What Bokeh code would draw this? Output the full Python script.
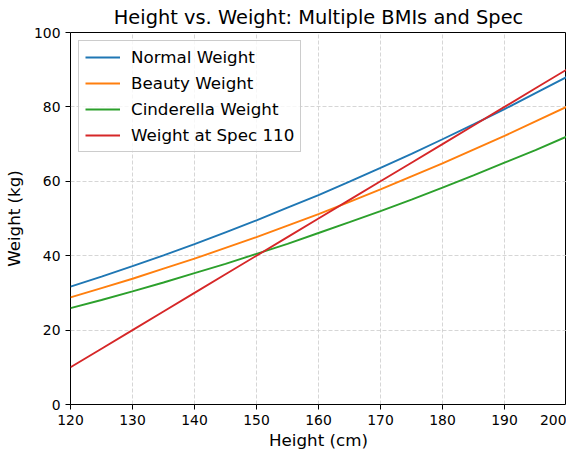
from bokeh.plotting import figure
from bokeh.models import Range1d, FixedTicker, Legend, LegendItem
from bokeh.embed import file_html
from bokeh.resources import INLINE

# height (cm) and weights (kg)
heights = [120, 125, 130, 135, 140, 145, 150, 155, 160, 165, 170, 175, 180, 185, 190, 195, 200]
normal_weight = [31.7, 34.4, 37.2, 40.1, 43.1, 46.3, 49.5, 52.9, 56.3, 59.9, 63.6, 67.4, 71.3, 75.3, 79.4, 83.7, 88.0]
beauty_weight = [28.8, 31.3, 33.8, 36.5, 39.2, 42.1, 45.0, 48.1, 51.2, 54.5, 57.8, 61.3, 64.8, 68.5, 72.2, 76.1, 80.0]
cinderella_weight = [25.9, 28.1, 30.4, 32.8, 35.3, 37.8, 40.5, 43.2, 46.1, 49.0, 52.0, 55.1, 58.3, 61.6, 65.0, 68.4, 72.0]
spec_weight = [10, 15, 20, 25, 30, 35, 40, 45, 50, 55, 60, 65, 70, 75, 80, 85, 90]

series = [
    ("Normal Weight", normal_weight, "#1f77b4"),
    ("Beauty Weight", beauty_weight, "#ff7f0e"),
    ("Cinderella Weight", cinderella_weight, "#2ca02c"),
    ("Weight at Spec 110", spec_weight, "#d62728"),
]

FONT = "DejaVu Sans"

p = figure(width=566, height=452, output_backend="svg", toolbar_location=None,
           title="Height vs. Weight: Multiple BMIs and Spec",
           x_range=Range1d(120, 200), y_range=Range1d(0, 100))
p.min_border_left = 0
p.min_border_right = 0
p.min_border_top = 0
p.min_border_bottom = 0

p.title.text_font = FONT
p.title.text_font_size = "19.4px"
p.title.text_font_style = "normal"
p.title.align = "center"
p.title.text_color = "black"
p.title.standoff = 7

p.xaxis.axis_label = "Height (cm)"
p.yaxis.axis_label = "Weight (kg)"
p.xaxis.ticker = FixedTicker(ticks=[120, 130, 140, 150, 160, 170, 180, 190, 200])
p.yaxis.ticker = FixedTicker(ticks=[0, 20, 40, 60, 80, 100])
for ax in (p.xaxis, p.yaxis):
    ax.axis_label_text_font = FONT
    ax.axis_label_text_font_size = "16.7px"
    ax.axis_label_text_font_style = "normal"
    ax.axis_label_text_color = "black"
    ax.major_label_text_font = FONT
    ax.major_label_text_font_size = "13.9px"
    ax.major_label_text_color = "black"
    ax.axis_line_color = None
    ax.major_tick_line_color = "black"
    ax.major_tick_in = 0
    ax.major_tick_out = 5
    ax.minor_tick_line_color = None
p.xaxis.axis_label_standoff = 2
p.yaxis.axis_label_standoff = 7

p.outline_line_color = "black"
p.outline_line_width = 1
p.outline_line_alpha = 1

p.grid.grid_line_color = "#cccccc"
p.grid.grid_line_dash = "4 2"
p.grid.grid_line_width = 0.8

items = []
for name, w, color in series:
    r = p.line(heights, w, line_color=color, line_width=1.9)
    items.append(LegendItem(label=name, renderers=[r]))

legend = Legend(items=items, location="top_left")
legend.label_text_font = FONT
legend.label_text_font_size = "16.7px"
legend.label_text_color = "black"
legend.label_height = 20
legend.label_standoff = 11
legend.glyph_width = 35
legend.spacing = 6
legend.padding = 6
legend.margin = 8
legend.border_line_color = "#cccccc"
legend.border_line_alpha = 1
legend.background_fill_alpha = 0.8
p.add_layout(legend)

open("out.html", "w").write(file_html(p, INLINE))
